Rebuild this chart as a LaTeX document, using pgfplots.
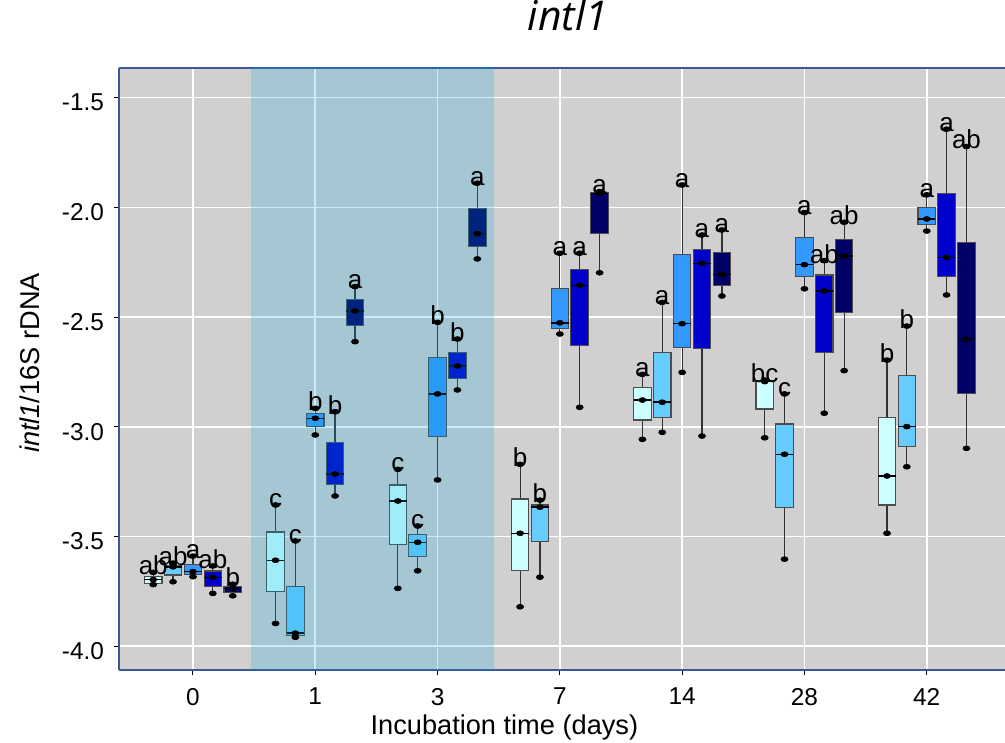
\documentclass[border=0pt]{standalone}
\usepackage{pgfplots}
\pgfplotsset{compat=1.18}
\usepgfplotslibrary{statistics}
\usepackage{fontspec}
\setmainfont{Liberation Sans}
\newfontfamily\titlefont{Open Sans}
\definecolor{bggrey}{RGB}{210,207,208}
\definecolor{overlayc}{RGB}{0,167,226}
\definecolor{frameblue}{RGB}{58,88,150}
\definecolor{c1}{RGB}{204,255,255}
\definecolor{c2}{RGB}{102,204,255}
\definecolor{c3}{RGB}{51,153,255}
\definecolor{c4}{RGB}{0,0,204}
\definecolor{c5}{RGB}{0,0,102}
% position, colour, lower whisker, lower quartile, median, upper quartile, upper whisker, letter
\newcommand{\bx}[8]{%
\addplot[draw=black!70, line width=0.55pt, fill=#2,
  boxplot/every median/.style={black, line width=0.75pt},
  boxplot/every whisker/.style={black!80, line width=0.6pt},
  boxplot prepared={draw position=#1, lower whisker=#3, lower quartile=#4,
    median=#5, upper quartile=#6, upper whisker=#7, box extend=0.143, whisker extend=0}]
  coordinates {};
\addplot[only marks, mark=*, mark size=1.2pt, mark options={black, xscale=1.45}]
  coordinates {(#1,#3) (#1,#5) (#1,#7)};
\addplot[draw=none, mark=none, nodes near coords, point meta=explicit symbolic,
  nodes near coords style={anchor=south, inner sep=0pt, yshift=-1.5pt, text=black,
  font=\fontsize{13}{15}\selectfont}]
  coordinates {(#1,#7) [#8]};
}
\begin{document}
\begin{tikzpicture}
\begin{axis}[
  scale only axis, width=443pt, height=301pt,
  xmin=-0.605, xmax=6.64, ymin=-4.108, ymax=-1.365,
  boxplot/draw direction=y,
  axis background/.style={fill=bggrey},
  axis x line*=box, axis y line*=left,
  axis line style={draw=frameblue, line width=1pt, -},
  x axis line style={-}, y axis line style={-},
  xtick={0,...,6}, xticklabels={0,1,3,7,14,28,42},
  ytick={-4,-3.5,-3,-2.5,-2,-1.5},
  xtick pos=bottom, ytick pos=left,
  tick align=outside, major tick length=2.5pt,
  tick style={black, line width=0.5pt},
  grid=major, major grid style={white, line width=0.8pt},
  /pgf/number format/assume math mode=true,
  yticklabel style={/pgf/number format/fixed, /pgf/number format/fixed zerofill, /pgf/number format/precision=1,
    yshift=-2.5pt, xshift=-1.5pt, font=\fontsize{12.2}{14}\selectfont},
  xticklabel style={yshift=-3pt, font=\fontsize{12.2}{14}\selectfont},
  title={\titlefont\itshape intl1},
  title style={at={(axis description cs:0.507,1)}, anchor=base, yshift=12.7pt, font=\fontsize{20.5}{24}\selectfont},
  xlabel={Incubation time (days)},
  xlabel style={at={(axis description cs:0.435,0)}, anchor=base, yshift=-32pt, font=\fontsize{13.6}{16}\selectfont},
  ylabel={\textit{intl1}/16S rDNA},
  ylabel style={at={(axis description cs:-0.1005,0.51)}, anchor=center, font=\fontsize{13.6}{16}\selectfont},
]
% day 0
\bx{-0.325}{c1}{-3.719}{-3.713}{-3.696}{-3.683}{-3.663}{ab}
\bx{-0.163}{c2}{-3.706}{-3.675}{-3.638}{-3.633}{-3.621}{ab}
\bx{0}{c3}{-3.683}{-3.671}{-3.660}{-3.627}{-3.589}{a}
\bx{0.162}{c4}{-3.759}{-3.726}{-3.686}{-3.657}{-3.634}{ab}
\bx{0.325}{c5}{-3.770}{-3.754}{-3.736}{-3.729}{-3.717}{b}
% day 1
\bx{0.675}{c1}{-3.896}{-3.752}{-3.608}{-3.479}{-3.356}{c}
\bx{0.837}{c2}{-3.959}{-3.949}{-3.940}{-3.729}{-3.520}{c}
\bx{1}{c3}{-3.037}{-3.000}{-2.961}{-2.938}{-2.916}{b}
\bx{1.162}{c4}{-3.315}{-3.261}{-3.215}{-3.072}{-2.931}{b}
\bx{1.325}{c5}{-2.612}{-2.539}{-2.472}{-2.418}{-2.361}{a}
% day 3
\bx{1.675}{c1}{-3.736}{-3.536}{-3.338}{-3.265}{-3.194}{c}
\bx{1.837}{c2}{-3.656}{-3.592}{-3.526}{-3.489}{-3.452}{c}
\bx{2}{c3}{-3.242}{-3.045}{-2.850}{-2.686}{-2.524}{b}
\bx{2.162}{c4}{-2.832}{-2.778}{-2.723}{-2.660}{-2.600}{b}
\bx{2.325}{c5}{-2.235}{-2.179}{-2.120}{-2.007}{-1.890}{a}
% day 7
\bx{2.675}{c1}{-3.820}{-3.653}{-3.485}{-3.329}{-3.171}{b}
\bx{2.837}{c2}{-3.685}{-3.521}{-3.366}{-3.356}{-3.334}{b}
\bx{3}{c3}{-2.577}{-2.551}{-2.526}{-2.369}{-2.209}{a}
\bx{3.162}{c4}{-2.911}{-2.630}{-2.355}{-2.282}{-2.209}{a}
\bx{3.325}{c5}{-2.298}{-2.118}{-1.936}{-1.931}{-1.928}{a}
% day 14
\bx{3.675}{c1}{-3.057}{-2.969}{-2.878}{-2.820}{-2.761}{a}
\bx{3.837}{c2}{-3.025}{-2.957}{-2.888}{-2.660}{-2.433}{a}
\bx{4}{c3}{-2.752}{-2.639}{-2.530}{-2.214}{-1.898}{a}
\bx{4.162}{c4}{-3.042}{-2.645}{-2.255}{-2.191}{-2.126}{a}
\bx{4.325}{c5}{-2.404}{-2.355}{-2.305}{-2.205}{-2.103}{a}
% day 28
\bx{4.675}{c1}{-3.050}{-2.919}{-2.794}{-2.791}{-2.787}{bc}
\bx{4.837}{c2}{-3.603}{-3.367}{-3.125}{-2.987}{-2.850}{c}
\bx{5}{c3}{-2.371}{-2.316}{-2.261}{-2.138}{-2.024}{a}
\bx{5.162}{c4}{-2.938}{-2.660}{-2.381}{-2.308}{-2.243}{ab}
\bx{5.325}{c5}{-2.744}{-2.480}{-2.222}{-2.145}{-2.068}{ab}
% day 42
\bx{5.675}{c1}{-3.485}{-3.356}{-3.224}{-2.958}{-2.696}{b}
\bx{5.837}{c2}{-3.182}{-3.091}{-2.999}{-2.768}{-2.541}{b}
\bx{6}{c3}{-2.108}{-2.079}{-2.053}{-2.000}{-1.943}{a}
\bx{6.162}{c4}{-2.399}{-2.316}{-2.229}{-1.938}{-1.644}{a}
\bx{6.325}{c5}{-3.098}{-2.850}{-2.601}{-2.161}{-1.723}{ab}
% shaded period (days 1 and 3)
\addplot[draw=none, fill=overlayc, fill opacity=0.21]
  coordinates {(0.475,-4.3) (2.46,-4.3) (2.46,-1.2) (0.475,-1.2)};
\end{axis}
\pgfresetboundingbox
\path (current axis.south west) ++(-59.5pt,-36.5pt) rectangle ++(502.5pt,371.5pt);
\end{tikzpicture}
\end{document}
